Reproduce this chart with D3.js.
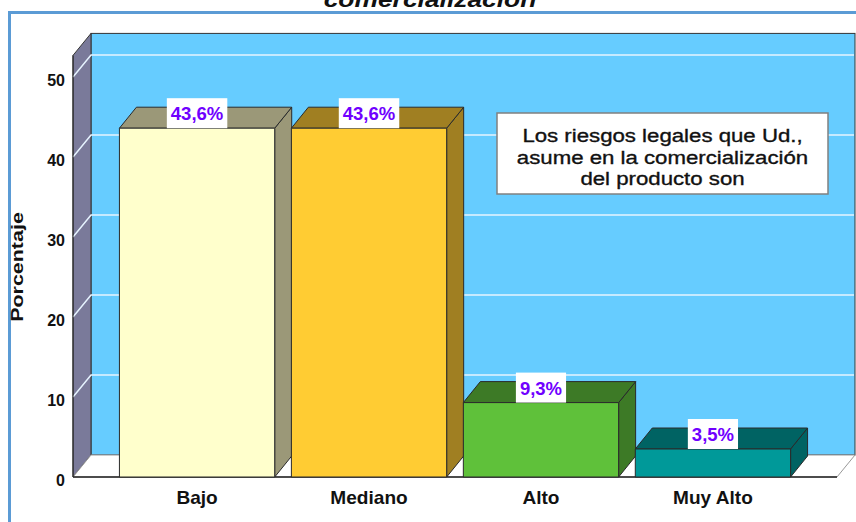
<!DOCTYPE html>
<html>
<head>
<meta charset="utf-8">
<script src="https://cdn.jsdelivr.net/npm/d3@7"></script>
<style>
  body { margin: 0; background: #fff; }
  svg { display: block; font-family: "Liberation Sans", Arial, sans-serif; }
</style>
</head>
<body>
<div id="chart"></div>
<script>
// Data
const categories = ["Bajo", "Mediano", "Alto", "Muy Alto"];
const percentages = [43.6, 43.6, 9.3, 3.5];
const valueLabels = ["43,6%", "43,6%", "9,3%", "3,5%"];
const yTicks = [0, 10, 20, 30, 40, 50];
const legendLines = ["Los riesgos legales que Ud.,", "asume en la comercialización", "del producto son"];
const titleText = "comercialización";
const yTitle = "Porcentaje";

const width = 856, height = 522;
const left = 73, right = 837, wallMax = 52.7;
const depth = { dx: 18, dy: -22 };      // wall depth
const barDepth = { dx: 17, dy: -21 };   // bar depth

const svg = d3.select("#chart").append("svg")
  .attr("width", width)
  .attr("height", height)
  .attr("viewBox", [0, 0, width, height]);

// Scales
const x = d3.scaleBand()
  .domain(categories)
  .range([left, right])
  .paddingInner(0.097)
  .paddingOuter(0.27);

const y = d3.scaleLinear()
  .domain([0, 50])
  .range([477, 77]);

const front = d3.scaleOrdinal()
  .domain(categories)
  .range(["#ffffcc", "#ffcc33", "#5fc13a", "#009999"]);
const shade = d3.scaleOrdinal()
  .domain(categories)
  .range(["#9b9878", "#a07f22", "#3d7a26", "#006363"]);

const pts = p => p.map(d => d.join(",")).join(" ");

// Outer frame
svg.append("rect")
  .attr("x", 9.5).attr("y", 12.5)
  .attr("width", 900).attr("height", 600)
  .attr("fill", "none")
  .attr("stroke", "#5b9bd5")
  .attr("stroke-width", 3);

// Title (cut at the top edge, as in the original)
svg.append("text")
  .attr("transform", "translate(430,6.5) scale(1.2,1)")
  .attr("text-anchor", "middle")
  .attr("font-size", 22)
  .attr("font-weight", "bold")
  .attr("font-style", "italic")
  .attr("fill", "#111")
  .text(titleText);

const y0 = y(0), yTop = y(wallMax);

// Back wall
svg.append("rect")
  .attr("x", left + depth.dx)
  .attr("y", yTop + depth.dy)
  .attr("width", right - left)
  .attr("height", y0 - yTop)
  .attr("fill", "#66ccff")
  .attr("stroke", "#333")
  .attr("stroke-width", 1);

// Left wall
svg.append("polygon")
  .attr("points", pts([[left, yTop], [left + depth.dx, yTop + depth.dy], [left + depth.dx, y0 + depth.dy], [left, y0]]))
  .attr("fill", "#7a7a9a")
  .attr("stroke", "#333")
  .attr("stroke-width", 1);

// Floor
svg.append("polygon")
  .attr("points", pts([[left, y0], [left + depth.dx, y0 + depth.dy], [right + depth.dx, y0 + depth.dy], [right, y0]]))
  .attr("fill", "#fff")
  .attr("stroke", "#999")
  .attr("stroke-width", 1);

// Gridlines on the walls
const grid = svg.append("g")
  .attr("stroke", "#e6f4ff")
  .attr("stroke-width", 1.5)
  .attr("fill", "none");
yTicks.filter(v => v > 0).forEach(v => {
  grid.append("polyline")
    .attr("points", pts([[left, y(v)], [left + depth.dx, y(v) + depth.dy], [right + depth.dx - 1, y(v) + depth.dy]]));
});

// Axis lines (front edges)
svg.append("line")
  .attr("x1", left).attr("x2", right)
  .attr("y1", y0).attr("y2", y0)
  .attr("stroke", "#222").attr("stroke-width", 1.5);
svg.append("line")
  .attr("x1", left).attr("x2", left)
  .attr("y1", yTop).attr("y2", y0)
  .attr("stroke", "#222").attr("stroke-width", 1);

// Bars
const rows = categories.map((c, i) => ({ cat: c, value: percentages[i], label: valueLabels[i] }));

const bar = svg.append("g")
  .selectAll("g")
  .data(rows)
  .join("g")
  .attr("stroke", "#2a2a2a")
  .attr("stroke-width", 1)
  .attr("stroke-linejoin", "round");

bar.append("polygon")
  .attr("fill", d => shade(d.cat))
  .attr("points", d => {
    const xr = x(d.cat) + x.bandwidth(), yt = y(d.value);
    return pts([[xr, yt], [xr + barDepth.dx, yt + barDepth.dy], [xr + barDepth.dx, y0 + barDepth.dy], [xr, y0]]);
  });

bar.append("polygon")
  .attr("fill", d => shade(d.cat))
  .attr("points", d => {
    const xl = x(d.cat), xr = xl + x.bandwidth(), yt = y(d.value);
    return pts([[xl, yt], [xl + barDepth.dx, yt + barDepth.dy], [xr + barDepth.dx, yt + barDepth.dy], [xr, yt]]);
  });

bar.append("rect")
  .attr("fill", d => front(d.cat))
  .attr("x", d => x(d.cat))
  .attr("y", d => y(d.value))
  .attr("width", x.bandwidth())
  .attr("height", d => y0 - y(d.value));

// Value labels with white boxes
const lab = svg.append("g")
  .selectAll("g")
  .data(rows)
  .join("g")
  .attr("transform", d => `translate(${x(d.cat) + x.bandwidth() / 2},${y(d.value)})`);

lab.append("rect").attr("fill", "#fff");
const labTexts = lab.append("text")
  .attr("y", -8)
  .attr("text-anchor", "middle")
  .attr("font-size", 18.5)
  .attr("font-weight", "bold")
  .attr("fill", "#7000ff")
  .text(d => d.label);
labTexts.each(function () {
  const w = this.getComputedTextLength() + 8;
  d3.select(this.parentNode).select("rect")
    .attr("x", -w / 2).attr("y", -30)
    .attr("width", w).attr("height", 30);
});

// Y axis tick labels
svg.append("g")
  .attr("transform", `translate(${left},0)`)
  .call(d3.axisLeft(y).tickValues(yTicks).tickSize(0).tickPadding(8))
  .call(g => g.select(".domain").remove())
  .selectAll("text")
  .attr("dy", "0.55em")
  .attr("font-family", "Liberation Sans, Arial, sans-serif")
  .attr("font-size", 16)
  .attr("font-weight", "bold")
  .attr("fill", "#111");

// X axis category labels
svg.append("g")
  .attr("transform", `translate(0,${y0})`)
  .call(d3.axisBottom(x).tickSize(0).tickPadding(14))
  .call(g => g.select(".domain").remove())
  .selectAll("text")
  .attr("transform", "scale(1.06,1)")
  .attr("font-family", "Liberation Sans, Arial, sans-serif")
  .attr("font-size", 18)
  .attr("font-weight", "bold")
  .attr("fill", "#111");

// Y axis title
svg.append("text")
  .attr("transform", "translate(23,267) rotate(-90) scale(1.3,1)")
  .attr("text-anchor", "middle")
  .attr("font-size", 16.5)
  .attr("font-weight", "bold")
  .attr("fill", "#111")
  .text(yTitle);

// Legend box
const legend = svg.append("g");
legend.append("rect")
  .attr("x", 497).attr("y", 113)
  .attr("width", 331).attr("height", 81)
  .attr("fill", "#fff")
  .attr("stroke", "#808080")
  .attr("stroke-width", 1.5);
legend.selectAll("text")
  .data(legendLines)
  .join("text")
  .attr("transform", (d, i) => `translate(662.5,${142 + i * 21.5}) scale(1.17,1)`)
  .attr("text-anchor", "middle")
  .attr("font-size", 19)
  .attr("fill", "#111")
  .attr("stroke", "#111")
  .attr("stroke-width", 0.35)
  .text(d => d);
</script>
</body>
</html>
